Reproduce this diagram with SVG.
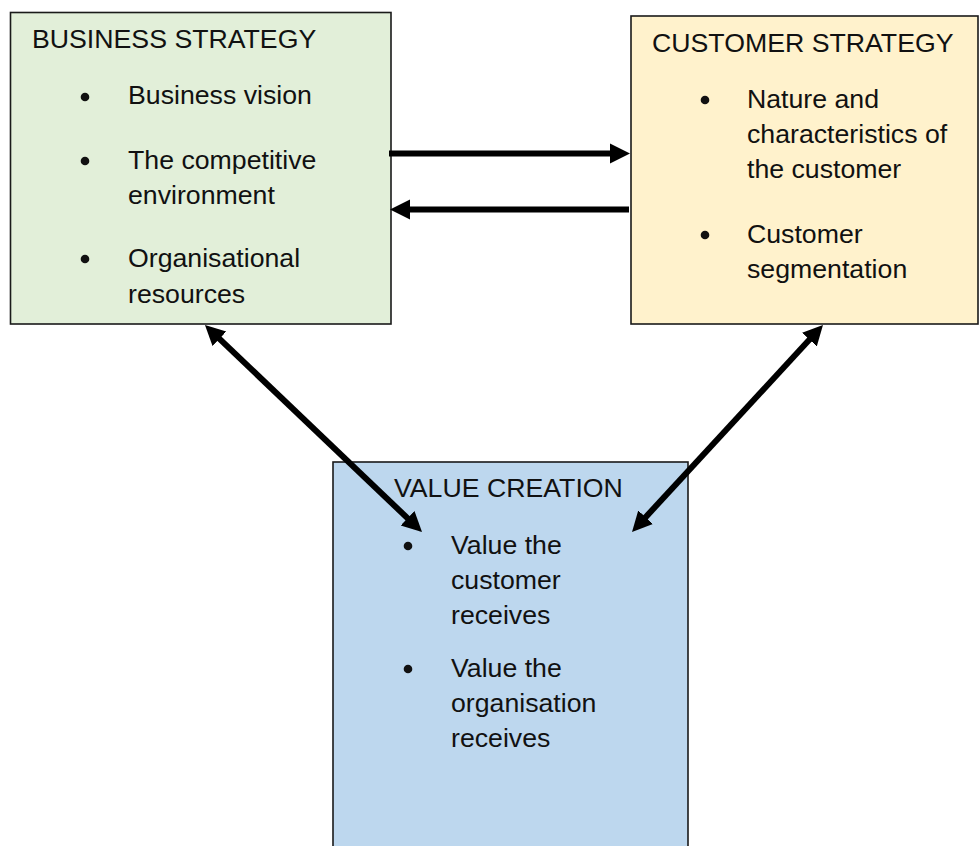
<svg xmlns="http://www.w3.org/2000/svg" width="980" height="846" viewBox="0 0 980 846">
  <style>
    .box { stroke: #1a1a1a; stroke-width: 1.6; }
    .txt { font-family: "Liberation Sans", Arial, sans-serif; font-size: 26.7px; fill: #111; }
    .dot { fill: #111; }
    .conn { stroke: #000; stroke-width: 6; fill: none; }
  </style>
  <defs>
    <marker id="head" markerUnits="userSpaceOnUse" markerWidth="22" markerHeight="22" refX="10" refY="10" orient="auto-start-reverse" viewBox="0 0 22 20">
      <path d="M0,0 L20,10 L0,20 z" fill="#000"/>
    </marker>
  </defs>

  <rect width="980" height="846" fill="#fff"/>

  <g id="business-strategy">
    <rect class="box" x="10.5" y="12.5" width="380.5" height="311.5" fill="#E2EFD9"/>
    <text class="txt" x="32" y="47.5">BUSINESS STRATEGY</text>
    <circle class="dot" cx="85" cy="97" r="4.3"/>
    <text class="txt" x="128" y="104">Business vision</text>
    <circle class="dot" cx="85" cy="161" r="4.3"/>
    <text class="txt" x="128" y="168.5">The competitive<tspan x="128" dy="35">environment</tspan></text>
    <circle class="dot" cx="85" cy="259" r="4.3"/>
    <text class="txt" x="128" y="266.5">Organisational<tspan x="128" dy="36">resources</tspan></text>
  </g>

  <g id="customer-strategy">
    <rect class="box" x="631" y="16" width="347" height="308" fill="#FFF2CC"/>
    <text class="txt" x="652" y="51.5">CUSTOMER STRATEGY</text>
    <circle class="dot" cx="705" cy="100" r="4.3"/>
    <text class="txt" x="747" y="107.5">Nature and<tspan x="747" dy="35">characteristics of</tspan><tspan x="747" dy="35">the customer</tspan></text>
    <circle class="dot" cx="705" cy="235" r="4.3"/>
    <text class="txt" x="747" y="242.5">Customer<tspan x="747" dy="35">segmentation</tspan></text>
  </g>

  <g id="value-creation">
    <rect class="box" x="333" y="462" width="355" height="400" fill="#BDD7EE"/>
    <text class="txt" x="394" y="496.5">VALUE CREATION</text>
    <circle class="dot" cx="408" cy="546" r="4.3"/>
    <text class="txt" x="451" y="553.5">Value the<tspan x="451" dy="35">customer</tspan><tspan x="451" dy="35">receives</tspan></text>
    <circle class="dot" cx="408" cy="669" r="4.3"/>
    <text class="txt" x="451" y="676.5">Value the<tspan x="451" dy="35">organisation</tspan><tspan x="451" dy="35">receives</tspan></text>
  </g>

  <g id="connectors">
    <line class="conn" x1="389" y1="153.5" x2="620" y2="153.5" marker-end="url(#head)"/>
    <line class="conn" x1="629" y1="209.5" x2="400" y2="209.5" marker-end="url(#head)"/>
    <line class="conn" x1="212.2" y1="331.9" x2="414.8" y2="525.1" marker-start="url(#head)" marker-end="url(#head)"/>
    <line class="conn" x1="816.2" y1="332.3" x2="638.8" y2="524.6" marker-start="url(#head)" marker-end="url(#head)"/>
  </g>
</svg>
